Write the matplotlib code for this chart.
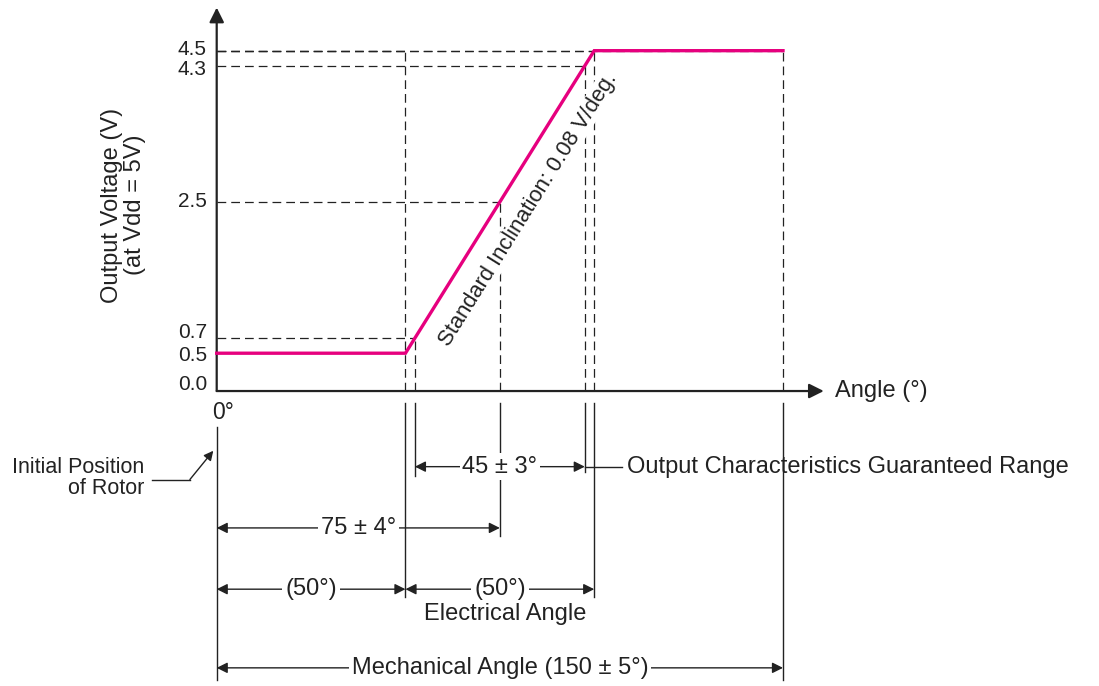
import matplotlib.pyplot as plt
import numpy as np

plt.rcParams['font.family'] = ['Liberation Sans', 'DejaVu Sans']

# output curve (angle in degrees, output voltage in V)
angle = [0, 50, 100, 150]
voltage = [0.5, 0.5, 4.5, 4.5]

# voltage tick labels
yticks = [0.0, 0.5, 0.7, 2.5, 4.3, 4.5]

# reference points marked with dashed guide lines
ref_angle = [50, 52.5, 75, 97.5, 100, 150]
ref_volt = [4.5, 0.7, 2.5, 4.3, 4.5, 4.5]

pink = '#e6007e'
ink = '#222222'
fs = 17
tick_fs = 15
# small nudges so crowded tick labels don't collide (as in the drawing)
tick_nudge = {0.0: 0.09, 0.5: -0.03, 0.7: 0.07, 2.5: 0.0, 4.3: -0.05, 4.5: 0.01}

fig = plt.figure(figsize=(10.99, 6.86), dpi=100)
ax = fig.add_axes([0, 0, 1, 1])
ax.set_xlim(-57.4, 233.7)
ax.set_ylim(-3.90, 5.17)
ax.axis('off')

# axes with arrows
ax.annotate('', xy=(160.8, 0), xytext=(0, 0),
            arrowprops=dict(arrowstyle='-|>', color=ink, lw=1.6,
                            mutation_scale=22, shrinkA=0, shrinkB=0))
ax.annotate('', xy=(0, 5.07), xytext=(0, 0),
            arrowprops=dict(arrowstyle='-|>', color=ink, lw=1.6,
                            mutation_scale=22, shrinkA=0, shrinkB=0))
ax.text(163.8, 0.0, 'Angle (°)', fontsize=fs, va='center', ha='left', color=ink)
ax.text(-1.3, -0.13, '0°', fontsize=16.5, va='top', ha='left', color=ink)

for v in yticks:
    ax.text(-2.6, v + tick_nudge[v], f'{v:.1f}', fontsize=tick_fs, ha='right',
            va='center', color=ink)

ax.text(-24.8, 2.46, 'Output Voltage (V)\n(at Vdd = 5V)', fontsize=17, rotation=90,
        ha='center', va='center', linespacing=1.05, color=ink)

# dashed guides
dash = dict(color=ink, lw=0.9, linestyle=(0, (7, 4)))
for a, v in zip(ref_angle, ref_volt):
    ax.plot([a, a], [0, v], **dash)
    ax.plot([0, a], [v, v], **dash)

# output curve
ax.plot(angle, voltage, color=pink, lw=2.4, solid_joinstyle='miter', zorder=3)

# slope label
p0 = ax.transData.transform((52.5, 0.7))
p1 = ax.transData.transform((97.5, 4.3))
rot = np.degrees(np.arctan2(p1[1] - p0[1], p1[0] - p0[0]))
ax.text(82.4, 2.40, 'Standard Inclination: 0.08 V/deg.', fontsize=15.8, rotation=rot,
        rotation_mode='anchor', ha='center', va='center', color=ink,
        bbox=dict(facecolor='white', edgecolor='none', pad=0.5), zorder=2)

# extension lines below the axis
solid = dict(color=ink, lw=1.0)
ext = [(0, -0.475, -3.82), (50, -0.157, -2.72), (52.5, -0.157, -1.13),
       (75, -0.157, -1.92), (97.5, -0.157, -1.07), (100, -0.157, -2.72),
       (150, -0.157, -3.82)]
for a, y0, y1 in ext:
    ax.plot([a, a], [y0, y1], **solid)


def dim(x0, x1, y, label, xt=None):
    ax.annotate('', xy=(x0, y), xytext=(x1, y),
                arrowprops=dict(arrowstyle='<|-|>', color=ink, lw=1.0,
                                mutation_scale=16, shrinkA=0, shrinkB=0))
    if label:
        xt = (x0 + x1) / 2 if xt is None else xt
        ax.text(xt, y, label, fontsize=fs, ha='center', va='center', color=ink,
                bbox=dict(facecolor='white', edgecolor='none', pad=2))


dim(52.5, 97.5, -1.0, '45 ± 3°', xt=75)
ax.plot([97.5, 107.3], [-1.0, -1.0], **solid)
ax.text(108.8, -1.0, 'Output Characteristics Guaranteed Range', fontsize=fs,
        ha='left', va='center', color=ink)
dim(0, 75, -1.81, '75 ± 4°')
dim(0, 50, -2.62, '(50°)')
dim(50, 100, -2.62, '(50°)')
ax.text(76.5, -2.95, 'Electrical Angle', fontsize=fs, ha='center', va='center', color=ink)
dim(0, 150, -3.66, 'Mechanical Angle (150 ± 5°)', xt=75)

# initial position of rotor
ax.text(-19.2, -1.15, 'Initial Position\nof Rotor', fontsize=15.5, ha='right', va='center',
        linespacing=1.05, color=ink)
ax.plot([-17.2, -7.1], [-1.17, -1.17], **solid)
ax.annotate('', xy=(-0.9, -0.79), xytext=(-7.1, -1.17),
            arrowprops=dict(arrowstyle='-|>', color=ink, lw=1.0,
                            mutation_scale=14, shrinkA=0, shrinkB=0))

fig.savefig('out.png', dpi=100)
